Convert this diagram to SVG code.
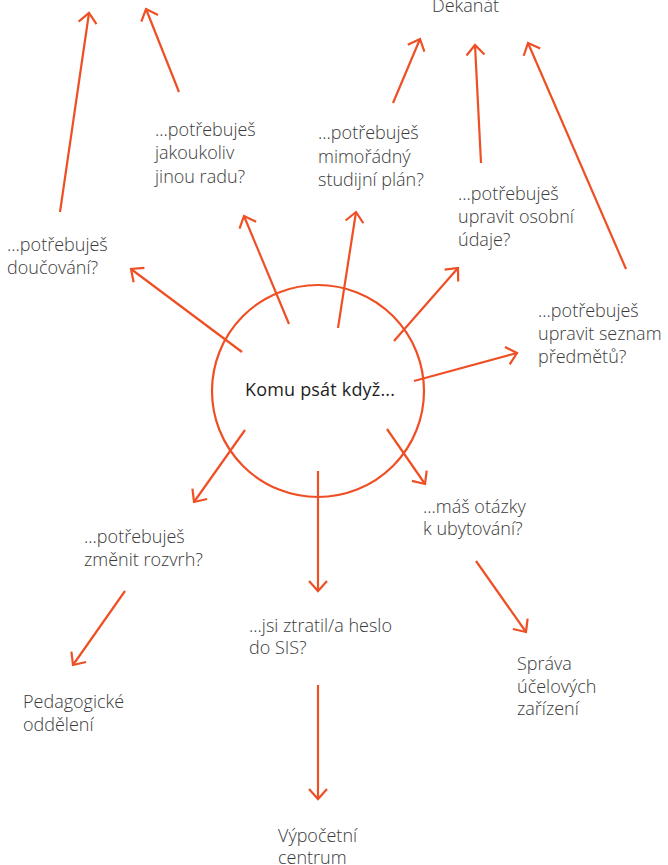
<svg xmlns="http://www.w3.org/2000/svg" width="668" height="865" viewBox="0 0 668 865">
<style>
.t{font-family:"Open Sans","Noto Sans","Liberation Sans",sans-serif;font-size:18px;font-weight:300;fill:#3a3a3a}
.c{font-family:"Open Sans","Noto Sans","Liberation Sans",sans-serif;font-size:18px;font-weight:400;fill:#1e1e1e}
.a{fill:none;stroke:#ef4f25;stroke-width:2.2;marker-end:url(#ah)}
</style>
<defs>
<marker id="ah" markerUnits="userSpaceOnUse" viewBox="-14 -14 28 28" markerWidth="28" markerHeight="28" refX="0" refY="0" orient="auto">
<path d="M-10,-9 L0,0 L-10,9" fill="none" stroke="#ef4f25" stroke-width="2.2"/>
</marker>
</defs>
<rect width="668" height="865" fill="#fff"/>
<g id="center">
<circle cx="318" cy="391" r="106" fill="none" stroke="#ef4f25" stroke-width="2.2"/>
<text class="c" x="245" y="396" textLength="150">Komu psát když...</text>
</g>
<g id="connectors">
<line class="a" x1="60" y1="212" x2="89" y2="13"/>
<line class="a" x1="179" y1="92" x2="146" y2="9"/>
<line class="a" x1="289" y1="324" x2="244" y2="216"/>
<line class="a" x1="242" y1="352" x2="131" y2="269"/>
<line class="a" x1="338" y1="328" x2="356" y2="212"/>
<line class="a" x1="393" y1="103" x2="420" y2="39"/>
<line class="a" x1="481" y1="163" x2="475" y2="45"/>
<line class="a" x1="626" y1="269" x2="528" y2="43"/>
<line class="a" x1="394" y1="341" x2="458" y2="268"/>
<line class="a" x1="414" y1="381" x2="517" y2="353"/>
<line class="a" x1="245" y1="430" x2="194" y2="502"/>
<line class="a" x1="318" y1="471" x2="318" y2="591"/>
<line class="a" x1="387" y1="429" x2="425" y2="484"/>
<line class="a" x1="125" y1="591" x2="73" y2="665"/>
<line class="a" x1="476" y1="561" x2="526" y2="632"/>
<line class="a" x1="318" y1="685" x2="318" y2="799"/>
</g>
<g id="dekanat"><text class="t" x="432" y="12">Dekanát</text></g>
<g id="doucovani"><text class="t" x="7" y="251">...potřebuješ</text><text class="t" x="7" y="274">doučování?</text></g>
<g id="rada"><text class="t" x="155" y="136">...potřebuješ</text><text class="t" x="155" y="159">jakoukoliv</text><text class="t" x="155" y="183">jinou radu?</text></g>
<g id="plan"><text class="t" x="318" y="139">...potřebuješ</text><text class="t" x="318" y="163">mimořádný</text><text class="t" x="318" y="186">studijní plán?</text></g>
<g id="udaje"><text class="t" x="458" y="200">...potřebuješ</text><text class="t" x="458" y="223">upravit osobní</text><text class="t" x="458" y="246">údaje?</text></g>
<g id="predmety"><text class="t" x="538" y="317">...potřebuješ</text><text class="t" x="538" y="340">upravit seznam</text><text class="t" x="538" y="363">předmětů?</text></g>
<g id="rozvrh"><text class="t" x="84" y="543">...potřebuješ</text><text class="t" x="84" y="566">změnit rozvrh?</text></g>
<g id="ubytovani"><text class="t" x="423" y="513">...máš otázky</text><text class="t" x="423" y="535">k ubytování?</text></g>
<g id="sis"><text class="t" x="249" y="632">...jsi ztratil/a heslo</text><text class="t" x="249" y="654">do SIS?</text></g>
<g id="pedagogicke"><text class="t" x="23" y="708">Pedagogické</text><text class="t" x="23" y="731">oddělení</text></g>
<g id="suz"><text class="t" x="517" y="670">Správa</text><text class="t" x="517" y="693">účelových</text><text class="t" x="517" y="715">zařízení</text></g>
<g id="vc"><text class="t" x="278" y="842">Výpočetní</text><text class="t" x="278" y="864">centrum</text></g>
</svg>
